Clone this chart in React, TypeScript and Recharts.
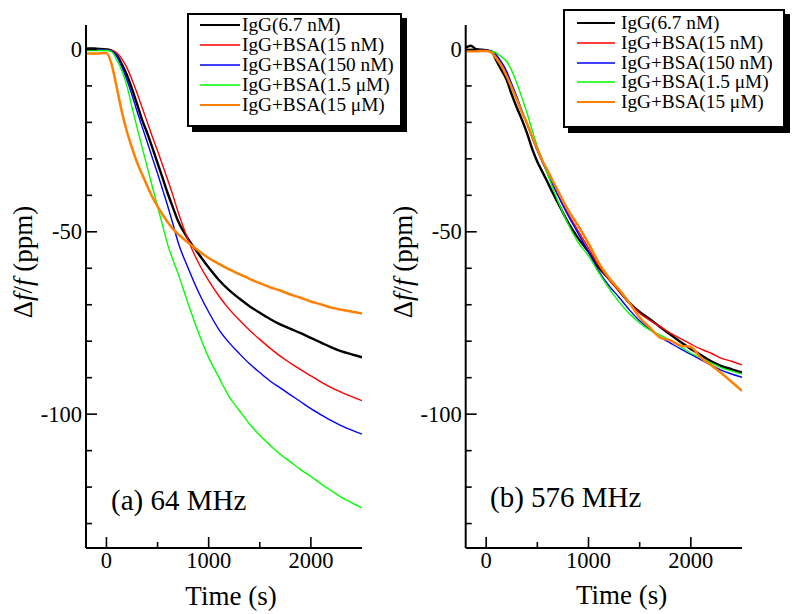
import React from "react";
import { LineChart, Line, XAxis, YAxis, Legend } from "recharts";

const FONT = "Liberation Serif";

// Time (s)
const TIME = [-200, -150, -100, 0, 50, 100, 150, 200, 250, 300, 350, 400, 450, 500, 550, 600, 650, 700, 800, 900, 1000, 1100, 1200, 1300, 1400, 1500, 1600, 1700, 1800, 1900, 2000, 2100, 2200, 2300, 2400, 2500];

// (a) 64 MHz  — Δf/f (ppm)
const A_IGG = [0.3, 0.3, 0.2, 0, -0.3, -1.5, -4, -7, -10.8, -15, -19.4, -23, -27, -31.2, -35.3, -39.5, -43.3, -47, -52, -56, -59.8, -63.2, -66, -68.3, -70.4, -72.2, -73.9, -75.4, -76.6, -77.8, -79.1, -80.4, -81.7, -82.8, -83.6, -84.4];
const A_BSA15N = [-0.2, -0.2, -0.2, -0.2, -0.3, -0.9, -2.6, -5, -8.3, -12, -16, -20, -24, -27.8, -31.8, -35.8, -40, -44.5, -52.3, -58.5, -63.4, -67.6, -71.2, -74.2, -77, -79.5, -81.9, -84.1, -86, -87.8, -89.5, -91.2, -92.7, -94, -95.2, -96.3];
const A_BSA150N = [0, 0, -0.1, -0.2, -0.4, -1.8, -4.8, -8.3, -12.5, -17, -21.3, -25.5, -29.8, -34, -38.5, -43, -47.8, -52.8, -60, -66.5, -72, -76.8, -80.4, -83.4, -86.2, -88.6, -90.9, -92.8, -94.7, -96.6, -98.5, -100.2, -101.8, -103.2, -104.4, -105.5];
const A_BSA1_5U = [-0.3, -0.3, -0.3, -0.3, -0.6, -2.8, -5.8, -10, -15.8, -21.5, -27, -32.3, -37.8, -43, -48.3, -53.6, -57.7, -61.4, -69.8, -77.6, -84.5, -89.9, -95.2, -99, -102.7, -105.8, -108.5, -111, -113.1, -115.2, -117.1, -119.1, -121, -122.8, -124.3, -125.7];
const A_BSA15U = [-1.1, -1.1, -1.1, -1, -4, -10.3, -17, -22.5, -27, -31, -34.3, -37.5, -40.5, -43, -45.3, -47.4, -49.2, -50.6, -53, -55.2, -57.2, -58.8, -60.3, -61.6, -62.9, -64.1, -65.2, -66.1, -67.2, -68.1, -69.1, -69.9, -70.8, -71.4, -71.9, -72.4];

// (b) 576 MHz — Δf/f (ppm)
const B_IGG = [0.5, 1.0, 0.1, -0.2, -0.5, -3.1, -5.7, -8.3, -12.4, -16, -19.3, -23, -27.3, -30.8, -33.6, -36.4, -39.3, -42, -47.4, -51.8, -55.5, -59.8, -62.9, -66.2, -69.5, -72, -74, -76.1, -78.2, -80.2, -82.1, -83.8, -85.5, -86.8, -87.7, -88.6];
const B_BSA15N = [-0.3, -0.3, -0.3, -0.3, -0.5, -1.8, -3.8, -6.3, -9.8, -13.3, -17, -20.6, -24, -27.6, -30.7, -33.8, -36.8, -39.8, -45, -49.8, -54.5, -59.3, -63, -66.3, -69.6, -72.3, -74.3, -76, -77.8, -79.3, -80.8, -82.2, -83.3, -84.7, -85.5, -86.5];
const B_BSA150N = [-0.3, -0.3, -0.3, -0.3, -0.4, -1.5, -3.5, -6, -9.5, -13, -16.8, -20.5, -24.3, -27.8, -31, -34, -37, -40, -45.5, -50.5, -55.5, -60.8, -64.8, -68, -71.4, -74.4, -76.7, -78.9, -80.5, -82.1, -83.6, -85.1, -86.6, -88, -89, -89.9];
const B_BSA1_5U = [-0.5, -0.5, -0.5, -0.5, -0.5, -1, -2, -3.3, -5.8, -9.3, -13.3, -17.5, -22.2, -26.6, -30.4, -34.2, -38, -41.5, -47.8, -53, -56.6, -61.2, -65.5, -69.3, -72.5, -75, -77, -78.3, -79.8, -81.5, -83.3, -84.6, -86, -87.3, -88.2, -89];
const B_BSA15U = [-0.5, -0.5, -0.5, -0.4, -0.8, -2.5, -4.5, -7.3, -10.5, -13.8, -17.3, -20.3, -24, -27.3, -30.5, -33.2, -36, -38.7, -44, -48.4, -53.2, -58.5, -62.6, -65.9, -69.5, -73.5, -76.3, -79, -79.8, -81.2, -81.6, -84.6, -86.6, -88.8, -91.2, -93.6];

const SERIES_NAMES = ["IgG(6.7 nM)", "IgG+BSA(15 nM)", "IgG+BSA(150 nM)", "IgG+BSA(1.5 μM)", "IgG+BSA(15 μM)"];
const SERIES_KEYS = ["s0", "s1", "s2", "s3", "s4"];
const SERIES_COLORS = ["#000000", "#ff0000", "#0000ff", "#00ff00", "#ff8000"];
const SERIES_WIDTHS = [2.4, 1.4, 1.4, 1.4, 2.5];

const X_TICKS = [0, 500, 1000, 1500, 2000];
const Y_TICKS = [0, -10, -20, -30, -40, -50, -60, -70, -80, -90, -100, -110, -120, -130];
const X_DOMAIN = [-200, 2500];
const Y_DOMAIN = [-136.7, 6.7];

function buildTable(cols: number[][]) {
  return TIME.map((t, i) => {
    const row: any = { t };
    SERIES_KEYS.forEach((k, j) => {
      row[k] = cols[j][i];
    });
    return row;
  });
}

const DATA_A = buildTable([A_IGG, A_BSA15N, A_BSA150N, A_BSA1_5U, A_BSA15U]);
const DATA_B = buildTable([B_IGG, B_BSA15N, B_BSA150N, B_BSA1_5U, B_BSA15U]);

const MAJOR = 11;
const MINOR = 6;

function SText(props: any) {
  const { size, children, ...rest } = props;
  return (
    <text {...rest} fill="#000" style={{ fontFamily: FONT, fontSize: size }}>
      {children}
    </text>
  );
}

function BottomTick(p: any) {
  const { x, y, payload } = p;
  const v = payload.value;
  const major = v % 1000 === 0;
  return (
    <g>
      <line x1={x} x2={x} y1={y} y2={y - (major ? MAJOR : MINOR)} stroke="#000" strokeWidth={1.6} />
      {major && (
        <SText x={x} y={y + 20} textAnchor="middle" size={22.5}>
          {String(v)}
        </SText>
      )}
    </g>
  );
}

function TopTick(p: any) {
  const { x, y, payload } = p;
  const major = payload.value % 1000 === 0;
  return <line x1={x} x2={x} y1={y} y2={y + (major ? MAJOR : MINOR)} stroke="#000" strokeWidth={1.6} />;
}

function LeftTick(p: any) {
  const { x, y, payload } = p;
  const v = payload.value;
  const major = v % 50 === 0;
  return (
    <g>
      <line x1={x} x2={x + (major ? MAJOR : MINOR)} y1={y} y2={y} stroke="#000" strokeWidth={1.6} />
      {major && (
        <SText x={x - 4} y={y + 7.5} textAnchor="end" size={22.5}>
          {String(v)}
        </SText>
      )}
    </g>
  );
}

function RightTick(p: any) {
  const { x, y, payload } = p;
  const major = payload.value % 50 === 0;
  return <line x1={x} x2={x - (major ? MAJOR : MINOR)} y1={y} y2={y} stroke="#000" strokeWidth={1.6} />;
}

type LegendBox = { left: number; top: number; w: number; h: number; pt: number; lineLeft: number; lineW: number; gap: number; rowH: number };

function makeLegend(box: LegendBox) {
  return () => (
    <div
      style={{
        width: box.w,
        height: box.h,
        boxSizing: "border-box",
        border: "2px solid #000",
        background: "#fff",
        boxShadow: "5px 5px 0 #000",
        paddingTop: box.pt,
        fontFamily: FONT,
        fontSize: 19.3,
        color: "#000",
      }}
    >
      {SERIES_NAMES.map((name, i) => (
        <div key={name} style={{ display: "flex", alignItems: "center", height: box.rowH, whiteSpace: "nowrap" }}>
          <svg width={box.lineW} height={6} style={{ display: "block", marginLeft: box.lineLeft, flex: "none" }}>
            <line x1={0} x2={box.lineW} y1={3} y2={3} stroke={SERIES_COLORS[i]} strokeWidth={i === 0 || i === 4 ? 2.2 : 1.6} />
          </svg>
          <span style={{ marginLeft: box.gap, lineHeight: `${box.rowH}px` }}>{name}</span>
        </div>
      ))}
    </div>
  );
}

type PanelProps = {
  data: any[];
  width: number;
  marginRight: number;
  yAxisWidth: number;
  tag: string;
  tagX: number;
  tagY: number;
  timeX: number;
  timeY: number;
  legend: LegendBox;
};

function Panel(props: PanelProps) {
  const { data, width, marginRight, yAxisWidth, tag, tagX, tagY, timeX, timeY, legend } = props;
  const axisLine = { stroke: "#000", strokeWidth: 2 };
  return (
    <LineChart width={width} height={614} data={data} margin={{ top: 25, right: marginRight, bottom: 0, left: 0 }}>
      <XAxis
        dataKey="t"
        type="number"
        domain={X_DOMAIN}
        ticks={X_TICKS}
        interval={0}
        allowDataOverflow
        height={66}
        tickSize={0}
        tickMargin={0}
        tickLine={false}
        axisLine={axisLine}
        tick={(p: any) => <BottomTick {...p} />}
      />
      <XAxis
        xAxisId="top"
        orientation="top"
        dataKey="t"
        type="number"
        domain={X_DOMAIN}
        ticks={X_TICKS}
        interval={0}
        allowDataOverflow
        height={0}
        tickSize={0}
        tickMargin={0}
        tickLine={false}
        axisLine={axisLine}
        tick={(p: any) => <TopTick {...p} />}
      />
      <YAxis
        type="number"
        domain={Y_DOMAIN}
        ticks={Y_TICKS}
        interval={0}
        allowDataOverflow
        width={yAxisWidth}
        tickSize={0}
        tickMargin={0}
        tickLine={false}
        axisLine={axisLine}
        tick={(p: any) => <LeftTick {...p} />}
      />
      <YAxis
        yAxisId="right"
        orientation="right"
        type="number"
        domain={Y_DOMAIN}
        ticks={Y_TICKS}
        interval={0}
        allowDataOverflow
        width={0}
        tickSize={0}
        tickMargin={0}
        tickLine={false}
        axisLine={axisLine}
        tick={(p: any) => <RightTick {...p} />}
      />
      {SERIES_KEYS.map((k, i) => (
        <Line
          key={k}
          dataKey={k}
          name={SERIES_NAMES[i]}
          type="monotone"
          stroke={SERIES_COLORS[i]}
          strokeWidth={SERIES_WIDTHS[i]}
          dot={false}
          activeDot={false}
          isAnimationActive={false}
        />
      ))}
      <Legend
        layout="vertical"
        align="center"
        verticalAlign="middle"
        content={makeLegend(legend)}
        wrapperStyle={{ left: legend.left, top: legend.top, width: legend.w + 6, height: legend.h + 6 }}
      />
      <SText transform={`translate(${yAxisWidth - 54}, 262) rotate(-90)`} textAnchor="middle" size={27}>
        Δ<tspan style={{ fontStyle: "italic" }}>f</tspan>/<tspan style={{ fontStyle: "italic" }}>f</tspan> (ppm)
      </SText>
      <SText x={timeX} y={timeY} textAnchor="middle" size={27}>
        Time (s)
      </SText>
      <SText x={tagX} y={tagY} size={29}>
        {tag}
      </SText>
    </LineChart>
  );
}

export default function App() {
  return (
    <div style={{ position: "absolute", left: 0, top: 0, width: 800, height: 614, background: "#fff", overflow: "hidden" }}>
      <div style={{ position: "absolute", left: 0, top: 0 }}>
        <Panel
          data={DATA_A}
          width={412}
          marginRight={50}
          yAxisWidth={86}
          tag="(a) 64 MHz"
          tagX={111}
          tagY={510}
          timeX={231}
          timeY={605}
          legend={{ left: 186.7, top: 13, w: 215, h: 114, pt: 0, lineLeft: 11.3, lineW: 40, gap: 2, rowH: 20 }}
        />
      </div>
      <div style={{ position: "absolute", left: 380, top: 0 }}>
        <Panel
          data={DATA_B}
          width={420}
          marginRight={58}
          yAxisWidth={85.7}
          tag="(b) 576 MHz"
          tagX={110}
          tagY={507}
          timeX={241.7}
          timeY={604}
          legend={{ left: 183.3, top: 9, w: 222, h: 118.7, pt: 2.3, lineLeft: 11.4, lineW: 38.3, gap: 6, rowH: 19.7 }}
        />
      </div>
    </div>
  );
}
